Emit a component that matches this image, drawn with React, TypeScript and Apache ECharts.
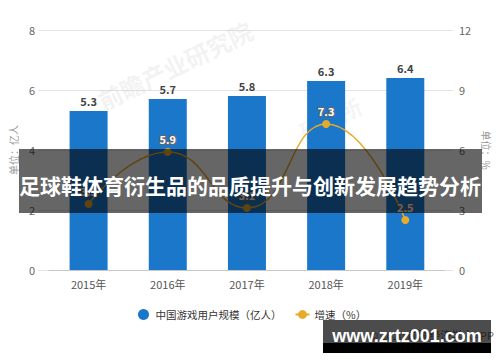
import React, { useEffect, useRef } from "react";
import * as echarts from "echarts";

const categories = ["2015年", "2016年", "2017年", "2018年", "2019年"];
const userScale = [5.3, 5.7, 5.8, 6.3, 6.4];
const growthRate = [3.3, 5.9, 3.1, 7.3, 2.5];
const seriesNames = ["中国游戏用户规模（亿人）", "增速（%）"];
const leftAxis = { min: 0, max: 8, interval: 2 };
const rightAxis = { min: 0, max: 12, interval: 3 };
const titleText = "足球鞋体育衍生品的品质提升与创新发展趋势分析";
const siteText = "www.zrtz001.com";

export default function App() {
  const ref = useRef<HTMLDivElement>(null);
  useEffect(() => {
    const chart = echarts.init(ref.current!, null, { renderer: "svg" });
    const font = "'Noto Sans CJK SC', 'Noto Sans', sans-serif";
    chart.setOption({
      animation: false,
      backgroundColor: "#ffffff",
      textStyle: { fontFamily: font },
      grid: [
        { left: 47, right: 53, top: 30, bottom: 92 },
        { left: 38, right: 47, top: 30, bottom: 92 },
      ],
      legend: {
        left: 133,
        top: 304,
        itemGap: 13,
        itemWidth: 14,
        itemHeight: 11,
        textStyle: { fontSize: 10.5, color: "#333", fontFamily: font },
        data: [
          { name: seriesNames[0], icon: "circle" },
          { name: seriesNames[1] },
        ],
      },
      xAxis: [
        {
          type: "category",
          gridIndex: 0,
          data: categories,
          axisLine: { lineStyle: { color: "#c8c8c8" } },
          axisTick: { alignWithLabel: true, lineStyle: { color: "#c8c8c8" } },
          axisLabel: { color: "#555", fontSize: 11, margin: 8 },
        },
        { type: "category", gridIndex: 1, show: false, data: categories },
      ],
      yAxis: [
        {
          type: "value",
          gridIndex: 0,
          ...leftAxis,
          name: "单位：亿人",
          nameLocation: "middle",
          nameGap: 30,
          nameTextStyle: { color: "#999", fontSize: 10 },
          axisLine: { show: false },
          axisTick: { show: false },
          splitLine: { show: false },
          axisLabel: { color: "#666", fontSize: 11, margin: 14 },
        },
        {
          type: "value",
          gridIndex: 0,
          position: "right",
          ...rightAxis,
          name: "单位：%",
          nameLocation: "middle",
          nameGap: 34,
          nameRotate: -90,
          nameTextStyle: { color: "#999", fontSize: 10 },
          axisLine: { show: false },
          axisTick: { show: false },
          splitLine: { show: false },
          axisLabel: { color: "#666", fontSize: 11, margin: 14 },
        },
        {
          type: "value",
          gridIndex: 1,
          ...leftAxis,
          axisLine: { show: false },
          axisTick: { show: false },
          axisLabel: { show: false },
          splitLine: { show: true, lineStyle: { color: "#e3e3e3" } },
        },
      ],
      series: [
        {
          name: seriesNames[0],
          type: "bar",
          xAxisIndex: 0,
          yAxisIndex: 0,
          barWidth: 38,
          data: userScale,
          itemStyle: { color: "#1a77c9" },
          label: {
            show: true,
            position: "top",
            distance: 5,
            color: "#444",
            fontSize: 11,
            fontWeight: "bold",
          },
        },
        {
          name: seriesNames[1],
          type: "line",
          xAxisIndex: 0,
          yAxisIndex: 1,
          smooth: true,
          data: growthRate,
          symbol: "circle",
          symbolSize: 8,
          itemStyle: { color: "#e8aa2a" },
          lineStyle: { color: "#e8aa2a", width: 1.5 },
          z: 3,
          label: {
            show: true,
            position: "top",
            distance: 4,
            color: "#ffffff",
            textBorderColor: "#666",
            textBorderWidth: 2,
            fontSize: 11,
            fontWeight: "bold",
          },
        },
      ],
      graphic: [
        {
          type: "text",
          x: 175,
          y: 65,
          rotation: 0.45,
          silent: true,
          z: 1,
          style: {
            text: "前瞻产业研究院",
            fill: "rgba(200,200,200,0.22)",
            fontSize: 24,
            fontWeight: "bold",
            align: "center",
            verticalAlign: "middle",
            fontFamily: font,
          },
        },
        {
          type: "text",
          x: 330,
          y: 118,
          rotation: 0.45,
          silent: true,
          z: 1,
          style: {
            text: "研究所",
            fill: "rgba(200,200,200,0.2)",
            fontSize: 22,
            fontWeight: "bold",
            align: "center",
            verticalAlign: "middle",
            fontFamily: font,
          },
        },
        {
          type: "rect",
          z: 100,
          silent: true,
          shape: { x: 19, y: 149, width: 463, height: 64 },
          style: { fill: "rgba(0,0,0,0.6)" },
        },
        {
          type: "text",
          z: 101,
          x: 250,
          y: 185,
          silent: true,
          style: {
            text: titleText,
            fill: "#ffffff",
            fontSize: 21,
            fontWeight: "bold",
            align: "center",
            verticalAlign: "middle",
            fontFamily: font,
          },
        },
        {
          type: "text",
          z: 99,
          x: 494,
          y: 335,
          silent: true,
          style: {
            text: "© 2020 前瞻经济学人APP",
            fill: "#777",
            fontSize: 11,
            align: "right",
            verticalAlign: "middle",
            fontFamily: font,
          },
        },
        {
          type: "rect",
          z: 100,
          silent: true,
          shape: { x: 323, y: 320, width: 168, height: 23 },
          style: { fill: "rgba(0,0,0,0.7)" },
        },
        {
          type: "rect",
          z: 100,
          silent: true,
          shape: { x: 323, y: 343, width: 168, height: 10 },
          style: { fill: "#000" },
        },
        {
          type: "text",
          z: 101,
          x: 407,
          y: 336,
          silent: true,
          style: {
            text: siteText,
            fill: "#ffffff",
            fontSize: 18,
            fontWeight: "bold",
            align: "center",
            verticalAlign: "middle",
            fontFamily: "'Liberation Sans', Arial, sans-serif",
          },
        },
      ],
    });
    return () => chart.dispose();
  }, []);
  return (
    <div
      ref={ref}
      style={{ position: "fixed", left: 0, top: 0, width: 500, height: 362 }}
    />
  );
}
